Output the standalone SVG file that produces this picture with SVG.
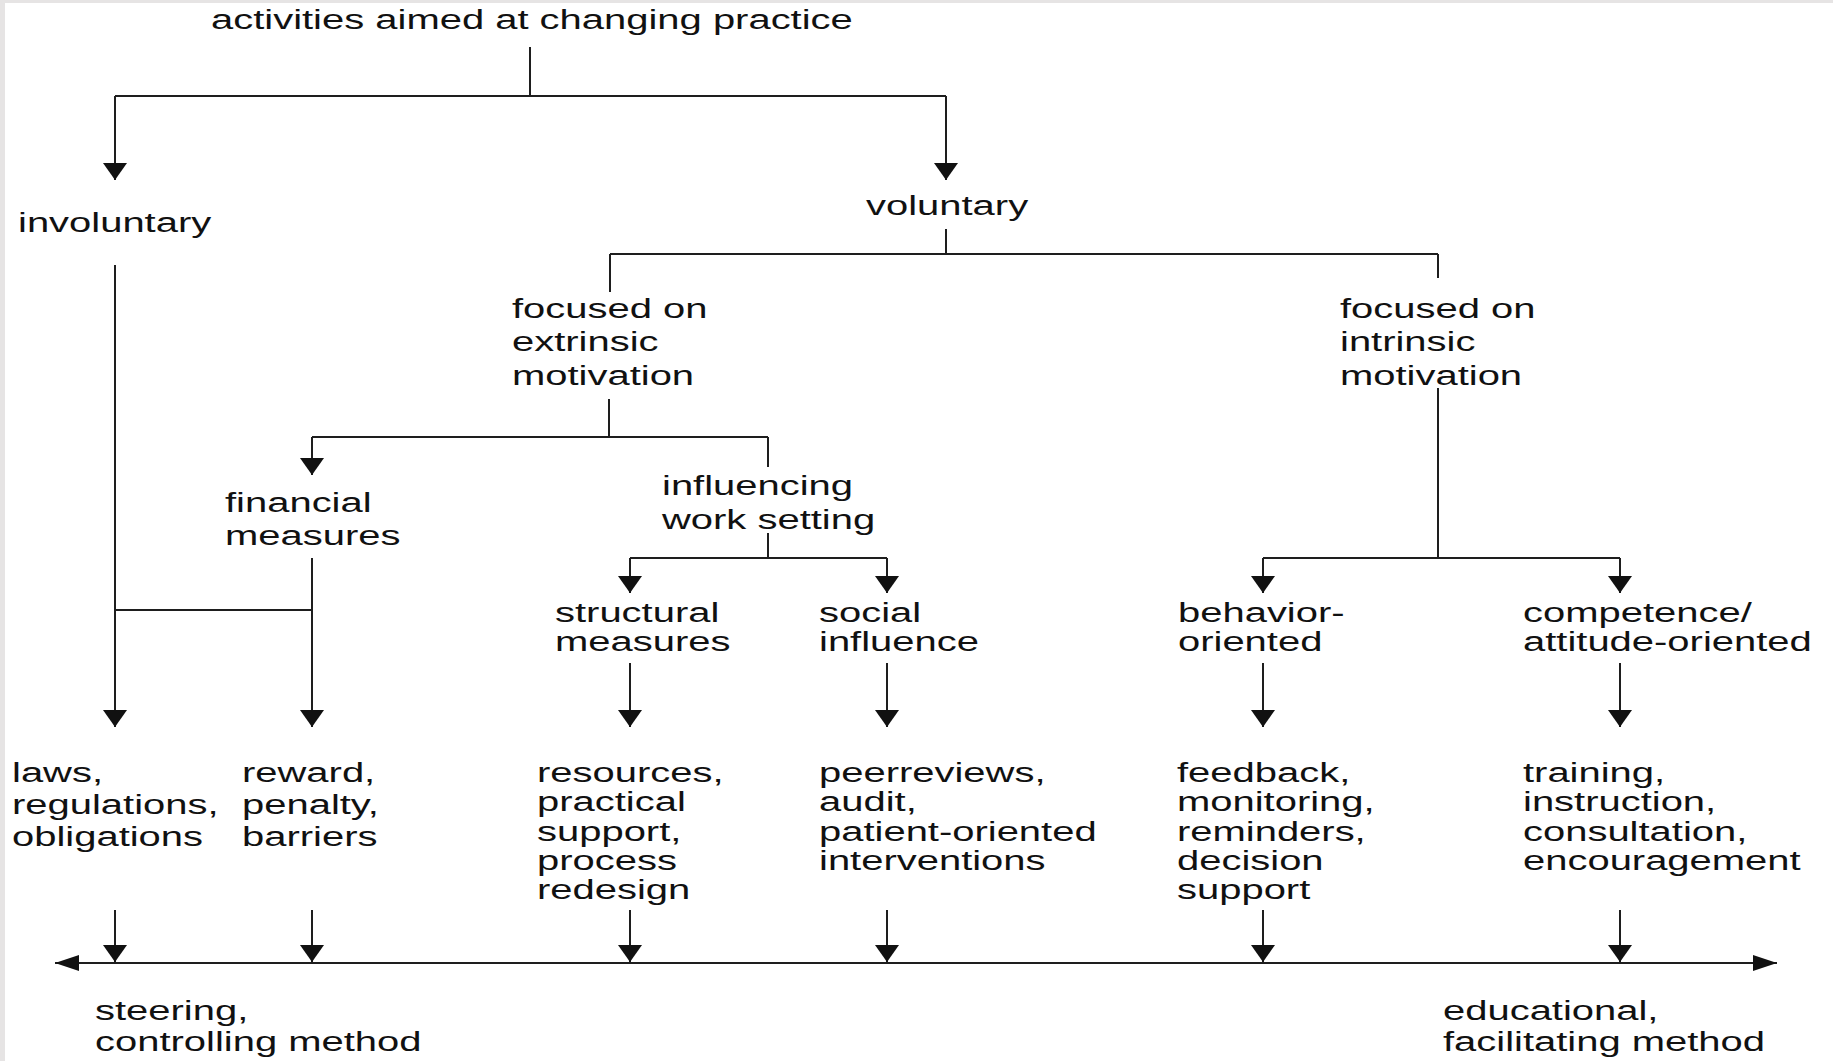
<svg xmlns="http://www.w3.org/2000/svg" width="1833" height="1061" viewBox="0 0 1833 1061">
<style>
text{font-family:"Liberation Sans",Arial,sans-serif;font-size:27px;fill:#111}
.ln{fill:none;stroke:#1e1e1e;stroke-width:2}
.ar{fill:none;stroke:#1e1e1e;stroke-width:2;marker-end:url(#down)}
</style>
<defs>
<marker id="down" markerUnits="userSpaceOnUse" markerWidth="20" markerHeight="26" viewBox="0 -13 18 26" refX="17" refY="0" orient="auto">
<path d="M0,-12 L17,0 L0,12 z" fill="#111"/>
</marker>
<marker id="side" markerUnits="userSpaceOnUse" markerWidth="26" markerHeight="18" viewBox="0 -9 25 18" refX="24" refY="0" orient="auto-start-reverse">
<path d="M0,-8 L24,0 L0,8 z" fill="#111"/>
</marker>
</defs>
<rect x="0" y="0" width="1833" height="1061" fill="#e6e4e4"/>
<rect x="5" y="3" width="1828" height="1058" fill="#ffffff"/>

<g id="connectors">
<path class="ln" d="M530,47 V96 M115,96 H946"/>
<path class="ar" d="M115,96 V180"/>
<path class="ar" d="M946,96 V180"/>
<path class="ln" d="M946,229 V254 M610,254 H1438 M610,254 V292 M1438,254 V278"/>
<path class="ln" d="M609,399 V437 M312,437 H768 M768,437 V467"/>
<path class="ar" d="M312,437 V475"/>
<path class="ln" d="M768,533 V558 M630,558 H887"/>
<path class="ar" d="M630,558 V593"/>
<path class="ar" d="M887,558 V593"/>
<path class="ln" d="M1438,388 V558 M1263,558 H1620"/>
<path class="ar" d="M1263,558 V593"/>
<path class="ar" d="M1620,558 V593"/>
<path class="ar" d="M115,265 V727"/>
<path class="ar" d="M312,558 V727"/>
<path class="ln" d="M115,610 H312"/>
<path class="ar" d="M630,663 V727"/>
<path class="ar" d="M887,663 V727"/>
<path class="ar" d="M1263,663 V727"/>
<path class="ar" d="M1620,663 V727"/>
<path class="ar" d="M115,910 V962"/>
<path class="ar" d="M312,910 V962"/>
<path class="ar" d="M630,910 V962"/>
<path class="ar" d="M887,910 V962"/>
<path class="ar" d="M1263,910 V962"/>
<path class="ar" d="M1620,910 V962"/>
<path class="ln" d="M55,963 H1777" marker-start="url(#side)" marker-end="url(#side)"/>
</g>

<g id="n-title"><text transform="translate(211 29) scale(1.48 1)">activities aimed at changing practice</text></g>
<g id="n-involuntary"><text transform="translate(18 232) scale(1.48 1)">involuntary</text></g>
<g id="n-voluntary"><text transform="translate(866 215) scale(1.48 1)">voluntary</text></g>
<g id="n-extrinsic"><text transform="translate(512 318) scale(1.48 1)"><tspan x="0" y="0">focused on</tspan><tspan x="0" y="33.5">extrinsic</tspan><tspan x="0" y="67">motivation</tspan></text></g>
<g id="n-intrinsic"><text transform="translate(1340 318) scale(1.48 1)"><tspan x="0" y="0">focused on</tspan><tspan x="0" y="33.5">intrinsic</tspan><tspan x="0" y="67">motivation</tspan></text></g>
<g id="n-financial"><text transform="translate(225 512) scale(1.48 1)"><tspan x="0" y="0">financial</tspan><tspan x="0" y="33.5">measures</tspan></text></g>
<g id="n-worksetting"><text transform="translate(662 495) scale(1.48 1)"><tspan x="0" y="0">influencing</tspan><tspan x="0" y="34">work setting</tspan></text></g>
<g id="n-structural"><text transform="translate(555 622) scale(1.48 1)"><tspan x="0" y="0">structural</tspan><tspan x="0" y="29.5">measures</tspan></text></g>
<g id="n-social"><text transform="translate(819 622) scale(1.48 1)"><tspan x="0" y="0">social</tspan><tspan x="0" y="29.5">influence</tspan></text></g>
<g id="n-behavior"><text transform="translate(1178 622) scale(1.48 1)"><tspan x="0" y="0">behavior-</tspan><tspan x="0" y="29.5">oriented</tspan></text></g>
<g id="n-competence"><text transform="translate(1523 622) scale(1.48 1)"><tspan x="0" y="0">competence/</tspan><tspan x="0" y="29.5">attitude-oriented</tspan></text></g>
<g id="n-laws"><text transform="translate(12 782) scale(1.48 1)"><tspan x="0" y="0">laws,</tspan><tspan x="0" y="31.8">regulations,</tspan><tspan x="0" y="63.6">obligations</tspan></text></g>
<g id="n-reward"><text transform="translate(242 782) scale(1.48 1)"><tspan x="0" y="0">reward,</tspan><tspan x="0" y="31.8">penalty,</tspan><tspan x="0" y="63.6">barriers</tspan></text></g>
<g id="n-resources"><text transform="translate(537 782) scale(1.48 1)"><tspan x="0" y="0">resources,</tspan><tspan x="0" y="29.3">practical</tspan><tspan x="0" y="58.6">support,</tspan><tspan x="0" y="87.9">process</tspan><tspan x="0" y="117.2">redesign</tspan></text></g>
<g id="n-peer"><text transform="translate(819 782) scale(1.48 1)"><tspan x="0" y="0">peerreviews,</tspan><tspan x="0" y="29.3">audit,</tspan><tspan x="0" y="58.6">patient-oriented</tspan><tspan x="0" y="87.9">interventions</tspan></text></g>
<g id="n-feedback"><text transform="translate(1177 782) scale(1.48 1)"><tspan x="0" y="0">feedback,</tspan><tspan x="0" y="29.3">monitoring,</tspan><tspan x="0" y="58.6">reminders,</tspan><tspan x="0" y="87.9">decision</tspan><tspan x="0" y="117.2">support</tspan></text></g>
<g id="n-training"><text transform="translate(1523 782) scale(1.48 1)"><tspan x="0" y="0">training,</tspan><tspan x="0" y="29.3">instruction,</tspan><tspan x="0" y="58.6">consultation,</tspan><tspan x="0" y="87.9">encouragement</tspan></text></g>
<g id="n-steering"><text transform="translate(95 1020) scale(1.48 1)"><tspan x="0" y="0">steering,</tspan><tspan x="0" y="31.5">controlling method</tspan></text></g>
<g id="n-educational"><text transform="translate(1443 1020) scale(1.48 1)"><tspan x="0" y="0">educational,</tspan><tspan x="0" y="31.5">facilitating method</tspan></text></g>
</svg>
